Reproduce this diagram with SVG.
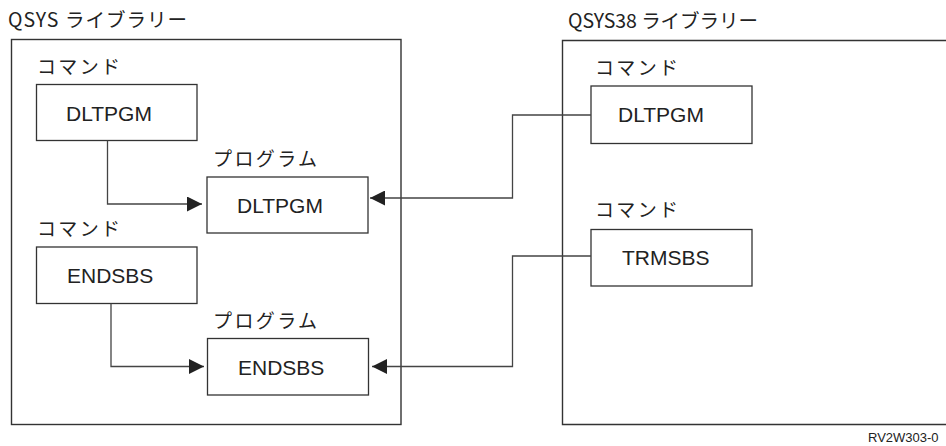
<svg xmlns="http://www.w3.org/2000/svg" width="946" height="446" viewBox="0 0 946 446">
<style>
.lib{fill:none;stroke:#333;stroke-width:1.4}
.box{fill:#fff;stroke:#333;stroke-width:1.3}
.jp{font-family:"Noto Sans CJK JP","Noto Sans",sans-serif;font-size:19px;fill:#222}
.ttl{font-family:"Noto Sans CJK JP","Noto Sans",sans-serif;font-size:19.5px;fill:#222}
.lbl{font-family:"Liberation Sans",Arial,sans-serif;font-size:21px;fill:#222}
.con{fill:none;stroke:#444;stroke-width:1.3}
.ft{font-family:"Liberation Sans",Arial,sans-serif;font-size:13px;fill:#222}
</style>
<defs>
<marker id="ah" markerWidth="15" markerHeight="15" viewBox="0 0 15 15" refX="15" refY="7.5" orient="auto" markerUnits="userSpaceOnUse">
<path d="M0,0 L15,7.5 L0,15 Z" fill="#222"/>
</marker>
</defs>
<g id="lib-qsys">
<text class="ttl" x="8" y="27" textLength="179" lengthAdjust="spacing">QSYS ライブラリー</text>
<rect class="lib" x="11.5" y="39.5" width="389.5" height="385"/>
</g>
<g id="lib-qsys38">
<text class="ttl" x="568" y="28" textLength="190" lengthAdjust="spacing">QSYS38 ライブラリー</text>
<path class="lib" d="M960,40.5 H562.5 V424.5 H960"/>
</g>
<g id="cmd-dltpgm">
<text class="jp" x="37" y="74" textLength="83" lengthAdjust="spacing">コマンド</text>
<rect class="box" x="36.5" y="84.5" width="160.5" height="56"/>
<text class="lbl" x="66" y="121">DLTPGM</text>
</g>
<g id="pgm-dltpgm">
<text class="jp" x="213" y="166" textLength="104" lengthAdjust="spacing">プログラム</text>
<rect class="box" x="207" y="177" width="161" height="56"/>
<text class="lbl" x="237" y="213">DLTPGM</text>
</g>
<g id="cmd-endsbs">
<text class="jp" x="37" y="236" textLength="83" lengthAdjust="spacing">コマンド</text>
<rect class="box" x="36.5" y="247" width="160.5" height="56.5"/>
<text class="lbl" x="67" y="283">ENDSBS</text>
</g>
<g id="pgm-endsbs">
<text class="jp" x="213" y="328" textLength="104" lengthAdjust="spacing">プログラム</text>
<rect class="box" x="207.5" y="338.5" width="161" height="56.5"/>
<text class="lbl" x="238" y="375">ENDSBS</text>
</g>
<g id="cmd38-dltpgm">
<text class="jp" x="595" y="75" textLength="83" lengthAdjust="spacing">コマンド</text>
<rect class="box" x="591" y="86" width="161" height="57.5"/>
<text class="lbl" x="618" y="122">DLTPGM</text>
</g>
<g id="cmd38-trmsbs">
<text class="jp" x="595" y="217" textLength="83" lengthAdjust="spacing">コマンド</text>
<rect class="box" x="591" y="229.5" width="161" height="56.5"/>
<text class="lbl" x="622" y="265">TRMSBS</text>
</g>
<g id="connectors">
<path class="con" d="M107.5,140.5 V204 H202" marker-end="url(#ah)"/>
<path class="con" d="M111,303.5 V366.5 H204" marker-end="url(#ah)"/>
<path class="con" d="M591,115 H512.5 V198 H370" marker-end="url(#ah)"/>
<path class="con" d="M591,256 H512.5 V366.5 H372" marker-end="url(#ah)"/>
</g>
<text class="ft" x="868" y="442">RV2W303-0</text>
</svg>
